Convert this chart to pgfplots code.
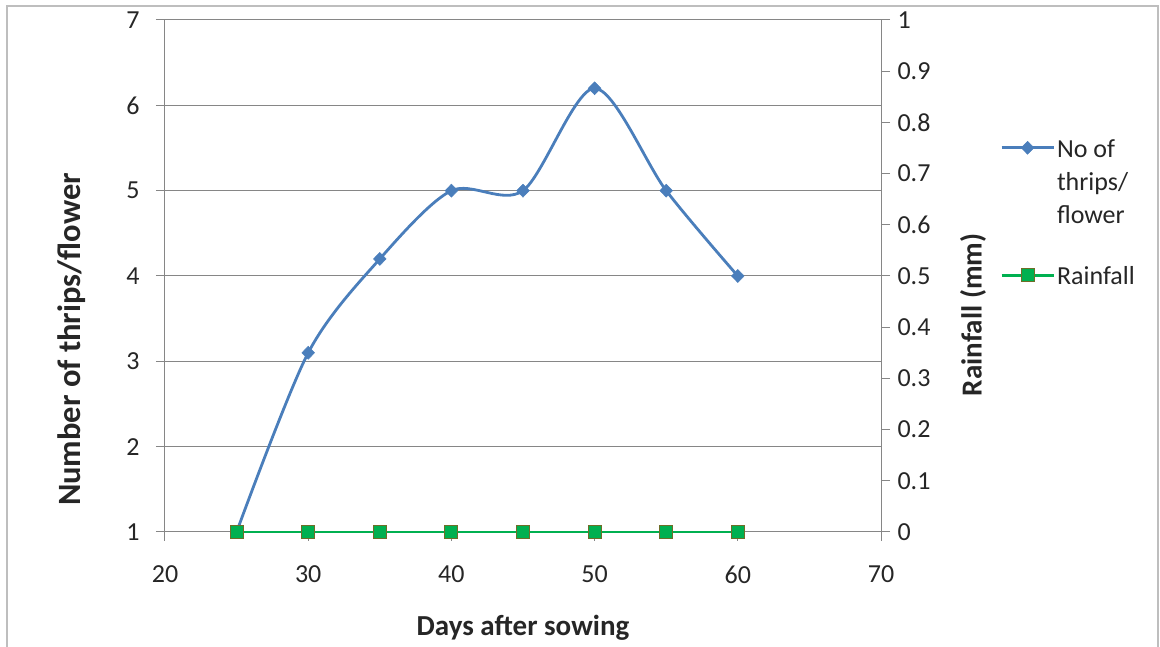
\documentclass[border=0pt]{standalone}
\usepackage{pgfplots}
\pgfplotsset{compat=1.18}
\usepackage{fontspec}
\setmainfont{Carlito}
\definecolor{ser1}{RGB}{74,126,187}
\definecolor{ser2}{RGB}{0,176,80}
\definecolor{ser2b}{RGB}{110,110,40}
\definecolor{gridc}{RGB}{134,134,134}
\definecolor{framec}{RGB}{190,190,190}
\definecolor{txt}{RGB}{38,38,38}
\begin{document}
\begin{tikzpicture}[x=1pt,y=1pt]
\useasboundingbox (0,0) rectangle (1160,647);
\draw[framec, line width=1.5pt] (7,-5) -- (7,641) -- (1158,641) -- (1158,-5);
\begin{axis}[
  at={(165pt,115pt)}, anchor=south west, scale only axis,
  width=716pt, height=512pt,
  xmin=20, xmax=70, ymin=1, ymax=7,
  xtick={20,30,...,70}, ytick={1,2,...,7},
  axis lines*=left,
  tick align=outside, major tick length=9pt,
  ymajorgrids, grid style={gridc, line width=1pt},
  axis line style={gridc, line width=1pt},
  tick style={gridc, line width=1pt},
  ticklabel style={font=\fontsize{26}{30}\selectfont, text=txt},
  yticklabel style={xshift=-13pt},
  xticklabel style={yshift=-21pt},
  /pgf/number format/assume math mode=true,
  xlabel={Days after sowing}, ylabel={Number of thrips/flower},
  xlabel style={font=\bfseries\fontsize{29}{32}\selectfont, text=txt,
    at={(axis description cs:0.5,-0.1875)}, anchor=center},
  ylabel style={font=\bfseries\fontsize{32.5}{36}\selectfont, text=txt,
    at={(axis description cs:-0.13,0.376)}, anchor=center},
  legend style={at={(axis description cs:1.1662,0.78125)}, anchor=north west,
    draw=none, fill=none, inner sep=0pt,
    font=\fontsize{26}{33}\selectfont, text=txt,
    cells={anchor=base west, inner xsep=2pt, inner ysep=0pt},
    row sep=99pt},
  legend image code/.code={\draw[mark repeat=2,mark phase=2,#1] plot coordinates {(0pt,9.5pt)(26pt,9.5pt)(52pt,9.5pt)};},
]
\addplot[ser1, line width=2.8pt, smooth, tension=0.5, mark=diamond*, mark size=6.5pt,
  mark options={fill=ser1, line width=0.5pt, solid, xscale=1.3}]
  coordinates {(25,1) (30,3.1) (35,4.2) (40,5) (45,5) (50,6.2) (55,5) (60,4)};
\addlegendentry{\begin{tabular}[t]{@{}l@{}}No of\\thrips/\\flower\end{tabular}}
\addlegendimage{ser2, line width=2.5pt, mark=square*, mark size=6.5pt,
  mark options={fill=ser2, draw=ser2b, line width=1pt}}
\addlegendentry{\begin{tabular}[t]{@{}l@{}}Rainfall\end{tabular}}
\end{axis}
\begin{axis}[
  at={(165pt,115pt)}, anchor=south west, scale only axis,
  width=716pt, height=512pt, clip=false,
  xmin=20, xmax=70, ymin=0, ymax=1,
  ytick={0,0.1,0.2,0.3,0.4,0.5,0.6,0.7,0.8,0.9,1},
  yticklabels={0,0.1,0.2,0.3,0.4,0.5,0.6,0.7,0.8,0.9,1},
  axis y line*=right, axis x line=none,
  tick align=outside, major tick length=9pt,
  axis line style={gridc, line width=1pt},
  tick style={gridc, line width=1pt},
  ticklabel style={font=\fontsize{26}{30}\selectfont, text=txt},
  yticklabel style={xshift=4pt},
  ylabel={Rainfall (mm)},
  ylabel style={font=\bfseries\fontsize{29}{32}\selectfont, text=txt,
    at={(axis description cs:1.1285,0.424)}, anchor=center},
]
\addplot[ser2, line width=2.5pt, mark=square*, mark size=6.5pt,
  mark options={fill=ser2, draw=ser2b, line width=1pt}]
  coordinates {(25,0) (30,0) (35,0) (40,0) (45,0) (50,0) (55,0) (60,0)};
\end{axis}
\end{tikzpicture}
\end{document}
